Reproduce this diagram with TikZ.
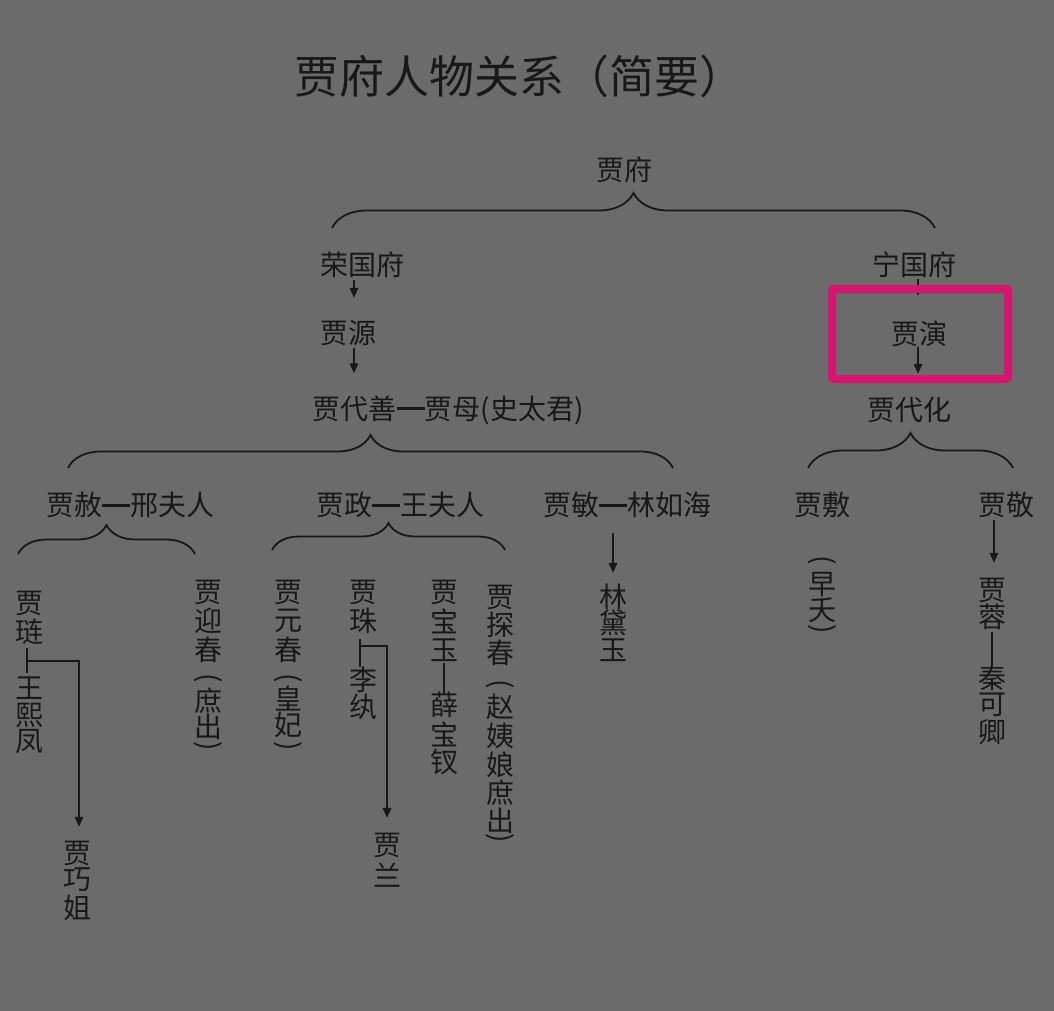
\documentclass[tikz,border=0pt]{standalone}
\usepackage{fontspec}
\setmainfont{Noto Sans CJK SC}
\usetikzlibrary{calc,arrows.meta,decorations.pathreplacing}
\definecolor{bgc}{HTML}{6B6B6B}
\definecolor{ink}{HTML}{181818}
\definecolor{mag}{HTML}{D7146F}
\newcommand\vlp{\rotatebox[origin=c]{-90}{(}}
\newcommand\vrp{\rotatebox[origin=c]{-90}{)}}
\newcommand\mydash{\rule[9pt]{28pt}{2.8pt}}
\newcommand\vcol[3]{\foreach \c/\yy [count=\i] in {#3} {\node[txt] (#1-\i) at (#2,\yy) {\c};}}
\begin{document}
\begin{tikzpicture}[x=1pt,y=-1pt,
  txt/.style={inner sep=0pt, text=ink, font=\fontsize{28}{28}\selectfont, minimum height=28pt},
  ttl/.style={inner sep=0pt, text=ink, font=\fontsize{45}{45}\selectfont},
  arr/.style={draw=ink, line width=2pt, -{Triangle[length=10pt,width=8.5pt]}},
  lnk/.style={draw=ink, line width=1.6pt},
  brc/.style={draw=ink, line width=1.8pt, decorate, decoration={brace, amplitude=#1}},
  hilite/.style={draw=mag, line width=8pt, rounded corners=2pt}]
\fill[bgc] (0,0) rectangle (1054,1011);
\useasboundingbox (0,0) rectangle (1054,1011);

% title
\node[ttl] (title) at (519,76) {贾府人物关系（简要）};

% horizontal nodes
\node[txt] (jf) at (624,170) {贾府};
\node[txt] (rgf) at (362,265) {荣国府};
\node[txt] (jy) at (348,333) {贾源};
\node[txt] (jds) at (448,410) {贾代善\mydash 贾母(史太君)};
\node[txt] (ngf) at (914,265) {宁国府};
\node[txt] (jyan) at (919,334) {贾演};
\node[txt] (jdh) at (909,410) {贾代化};
\node[txt] (js) at (130,505) {贾赦\mydash 邢夫人};
\node[txt] (jz) at (400,505) {贾政\mydash 王夫人};
\node[txt] (jm) at (627,505) {贾敏\mydash 林如海};
\node[txt] (jfu) at (822,505) {贾敷};
\node[txt] (jj) at (1006,505) {贾敬};

% vertical columns
\vcol{jl}{29}{贾/603, 琏/632}
\vcol{wx}{29}{王/688, 熙/715, 凤/742}
\vcol{qj}{77}{贾/853, 巧/880, 姐/908}
\vcol{yc}{208}{贾/592, 迎/621, 春/650, {\vlp}/680, 庶/701, 出/727, {\vrp}/748}
\vcol{yuc}{288}{贾/592, 元/621, 春/650, {\vlp}/680, 皇/699, 妃/725, {\vrp}/748}
\vcol{zh}{363}{贾/592, 珠/621}
\vcol{lw}{363}{李/680, 纨/707}
\vcol{jl2}{387}{贾/845, 兰/875}
\vcol{by}{444}{贾/592, 宝/621, 玉/650}
\vcol{bc}{444}{薛/705, 宝/734, 钗/762}
\vcol{tc}{500}{贾/597, 探/625, 春/653, {\vlp}/686, 赵/707, 姨/736, 娘/765, 庶/793, 出/821, {\vrp}/840}
\vcol{dy}{613}{林/597, 黛/623, 玉/650}
\vcol{zy}{822}{{\vlp}/562, 早/585, 夭/610, {\vrp}/631}
\vcol{jr}{992}{贾/590, 蓉/617}
\vcol{kq}{992}{秦/678, 可/705, 卿/732}

% braces
\draw[brc=35pt] (332,228) -- (935,228);
\draw[brc=33pt] (68,468) -- (673,468);
\draw[brc=29pt] (18,554) -- (195,554);
\draw[brc=27pt] (272,550) -- (505,550);
\draw[brc=35pt] (808,468) -- (1013,468);

% arrows
\draw[arr] ($(rgf.south)+(-8,1)$) -- ($(jy.north)+(6,-21)$);
\draw[arr] ($(jy.south)+(6,1)$) -- ($(jds.north)+(-94,-22)$);
\draw[arr] ($(ngf.south)+(4,0)$) -- ($(jyan.north)+(-1,-24)$);
\draw[arr] ($(jyan.south)+(-1,-1)$) -- ($(jdh.north)+(9,-22)$);
\draw[arr] ($(jm.south)+(-14,14)$) -- ($(dy-1.north)+(0,-10)$);
\draw[arr] ($(jj.south)+(-12,1)$) -- ($(jr-1.north)+(2,-13)$);

% marriage links and children
\draw[lnk] ($(jl-2.south)+(-2,2)$) -- ($(wx-1.north)+(-2,-1)$);
\coordinate (m1) at ($(jl-2.south)!0.5!(wx-1.north)+(-2,1)$);
\draw[arr] (m1) -| ($(qj-1.north)+(2,-12)$);
\draw[lnk] ($(zh-2.south)+(-3,4)$) -- ($(lw-1.north)+(-3,1)$);
\coordinate (m2) at ($(zh-2.south)+(-3,11)$);
\draw[arr] (m2) -| ($(jl2-1.north)+(0,-13)$);
\draw[lnk] ($(by-3.south)+(0,-1)$) -- ($(bc-1.north)+(0,3)$);
\draw[lnk] ($(jr-2.south)+(0,1)$) -- ($(kq-1.north)+(0,1)$);

% highlight box
\draw[hilite] (832,289) rectangle (1008,379);
\end{tikzpicture}
\end{document}
